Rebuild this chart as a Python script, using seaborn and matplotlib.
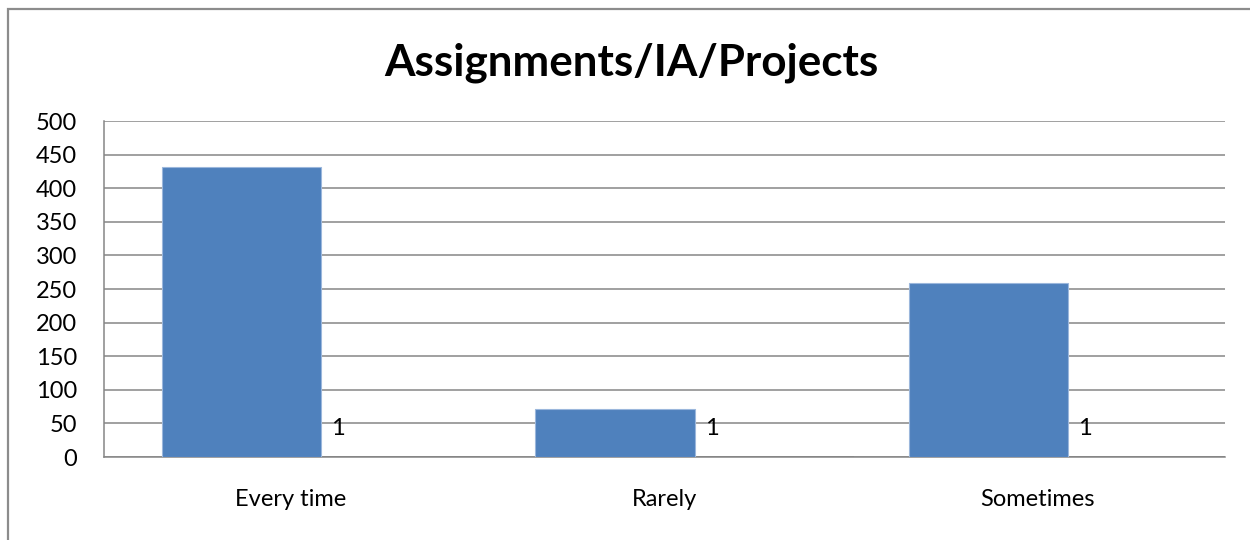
import numpy as np
import pandas as pd
import matplotlib
matplotlib.use("Agg")
import matplotlib.pyplot as plt
import seaborn as sns
from matplotlib.patches import Rectangle

# ---- data ----
categories = ["Every time", "Rarely", "Sometimes"]
series1 = [431, 71, 259]
series2 = [1, 1, 1]
yticks = [0, 50, 100, 150, 200, 250, 300, 350, 400, 450, 500]
title = "Assignments/IA/Projects"

sns.set_theme(style="white")
plt.rcParams['font.family'] = ['Lato', 'DejaVu Sans']

fig = plt.figure(figsize=(12.5, 5.4), dpi=100)
ax = fig.add_axes([104/1250, 83/540, (1224.7-104)/1250, (457-121)/540])

pos = np.arange(len(categories))
bar_w = 0.426
off1 = -0.132
off2 = off1 + bar_w

df1 = pd.DataFrame({"x": pos + off1, "v": series1})
df2 = pd.DataFrame({"x": pos + off2, "v": series2})

sns.barplot(data=df1, x="x", y="v", native_scale=True, width=bar_w,
            color="#4F81BD", saturation=1, edgecolor="#9bb7dc", linewidth=0.8,
            ax=ax, zorder=3)
sns.barplot(data=df2, x="x", y="v", native_scale=True, width=bar_w,
            color="#8a8a8a", saturation=1, linewidth=0,
            ax=ax, zorder=1)

for p, v in zip(pos, series2):
    ax.annotate(str(v), xy=(p + off2 - bar_w / 2, v), xytext=(10, 28),
                textcoords="offset pixels", ha="left", va="center",
                fontsize=17, color="black")

ax.set_xlim(-0.5, len(categories) - 0.5)
ax.set_ylim(0, 500)
ax.set_yticks(yticks)
ax.set_yticklabels([str(t) for t in yticks], fontsize=17, color="black")
ax.set_xticks(pos)
ax.set_xticklabels(categories, fontsize=17, color="black")
ax.tick_params(axis="y", length=0, pad=19.5)
ax.tick_params(axis="x", length=0, pad=23)
ax.set_xlabel("")
ax.set_ylabel("")

ax.yaxis.grid(True, color="#868686", linewidth=1.1, zorder=0)
ax.set_axisbelow(True)
for s in ["top", "right"]:
    ax.spines[s].set_visible(False)
for s in ["left", "bottom"]:
    ax.spines[s].set_color("#868686")
    ax.spines[s].set_linewidth(1.1)
    ax.spines[s].set_zorder(2)

fig.text(631/1250, 1 - 63/540, title, ha="center", va="center",
         fontsize=31.7, fontweight="bold", color="black")

fig.patches.append(Rectangle((8/1250, -0.05), 1.1, 1.05 - 8.5/540,
                             transform=fig.transFigure, fill=False,
                             edgecolor="#8c8c8c", linewidth=1.6))

fig.savefig("out.png", dpi=100)
